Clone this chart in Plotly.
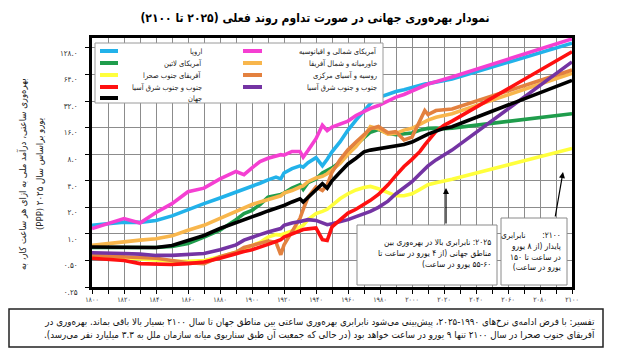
import math
import plotly.graph_objects as go

# ---------------- data ----------------
years = [1800, 1810, 1820, 1830, 1840, 1850, 1860, 1870, 1880, 1890,
         1895, 1900, 1905, 1910, 1915, 1918, 1920, 1925, 1930, 1932,
         1935, 1940, 1944, 1947, 1950, 1955, 1960, 1965, 1970, 1974,
         1979, 1985, 1990, 1995, 2000, 2005, 2008, 2010, 2015, 2020,
         2025, 2100]

europe = [1.25, 1.30, 1.36, 1.35, 1.42, 1.60, 1.90, 2.20, 2.55, 2.95,
          3.2, 3.45, 3.75, 4.1, 4.4, 4.2, 4.9, 5.5, 5.9, 5.7,
          6.4, 7.3, 5.9, 7.0, 8.5, 11.0, 15.0, 19.5, 25, 30,
          35, 38.5, 41, 43, 46, 48.5, 50, 50.5, 53, 55,
          57, 145]

latin_america = [0.70, 0.70, 0.70, 0.70, 0.70, 0.72, 0.78, 0.92, 1.10, 1.45,
                 1.7, 1.85, 2.15, 2.6, 2.7, 2.8, 2.9, 3.3, 3.6, 3.2,
                 3.8, 4.2, 4.9, 5.2, 5.6, 6.5, 8.4, 10.3, 12.5, 14.2,
                 15.2, 13.8, 13.3, 13.5, 13.9, 15.0, 15.5, 15.7, 15.8, 15.6,
                 15.8, 23]

subsaharan_africa = [0.55, 0.55, 0.54, 0.52, 0.50, 0.49, 0.49, 0.50, 0.55, 0.62,
                     0.68, 0.74, 0.80, 0.92, 0.98, 0.97, 1.0, 1.08, 1.2, 1.25,
                     1.45, 1.7, 1.8, 1.9, 2.1, 2.5, 2.85, 3.15, 3.35, 3.45,
                     3.25, 2.95, 2.7, 2.7, 2.85, 3.2, 3.4, 3.6, 3.8, 4.0,
                     4.15, 9.3]

red_asia = [0.53, 0.52, 0.50, 0.46, 0.45, 0.45, 0.46, 0.48, 0.53, 0.60,
            0.63, 0.66, 0.70, 0.76, 0.82, 0.86, 0.92, 1.0, 1.1, 1.12,
            1.14, 1.17, 0.86, 0.84, 1.2, 1.45, 1.72, 1.9, 2.15, 2.4,
            2.8, 3.6, 4.6, 5.8, 7.0, 8.6, 10.2, 11.2, 14.5, 17.0,
            19.0, 116]

world = [0.71, 0.71, 0.70, 0.70, 0.70, 0.74, 0.85, 0.96, 1.15, 1.33,
         1.42, 1.55, 1.68, 1.82, 1.95, 2.0, 2.1, 2.3, 2.5, 2.3,
         2.6, 3.1, 3.7, 3.3, 4.0, 5.0, 6.2, 7.2, 8.5, 8.9,
         9.2, 9.6, 9.9, 10.3, 11.0, 12.2, 13.0, 13.5, 14.6, 15.7,
         16.4, 55]

north_america = [1.15, 1.30, 1.49, 1.33, 1.75, 2.20, 3.0, 3.3, 4.2, 5.1,
                 4.7, 5.6, 6.6, 7.2, 7.6, 7.9, 7.8, 8.6, 8.6, 7.4,
                 8.8, 12.0, 17.0, 14.8, 16.2, 17.5, 19.0, 22, 24.5, 26.5,
                 28.5, 32, 35.5, 38, 41.5, 45, 48, 50, 53, 57,
                 60, 162]

mena = [0.74, 0.78, 0.81, 0.85, 0.88, 0.95, 1.10, 1.25, 1.50, 1.80,
        2.0, 2.15, 2.3, 2.45, 2.6, 2.7, 2.9, 3.1, 3.4, 3.5,
        3.9, 4.3, 4.5, 4.8, 5.3, 6.3, 8.0, 9.8, 12.6, 16.4,
        15.5, 13.5, 13.8, 15.0, 15.7, 17.5, 18.7, 19.5, 21, 22,
        23, 66]

russia = [0.57, 0.56, 0.55, 0.54, 0.53, 0.50, 0.47, 0.46, 0.55, 0.62,
          0.70, 0.74, 0.78, 0.83, 0.80, 0.58, 0.75, 1.05, 1.5, 1.9,
          2.6, 3.4, 3.1, 3.6, 5.0, 6.9, 9.0, 11.0, 13.5, 15.5,
          16.5, 14.0, 14.4, 11.6, 12.5, 19.0, 25.0, 22.5, 25.0, 25.5,
          26, 72]

purple_asia = [0.61, 0.61, 0.60, 0.59, 0.57, 0.57, 0.58, 0.60, 0.66, 0.75,
               0.85, 0.92, 0.98, 1.05, 1.12, 1.15, 1.25, 1.33, 1.38, 1.42,
               1.45, 1.42, 1.35, 1.27, 1.30, 1.36, 1.45, 1.57, 1.68, 1.80,
               2.0, 2.35, 2.85, 3.3, 3.9, 4.8, 5.5, 5.9, 6.9, 7.9,
               8.9, 89]

region_names = ["اروپا", "آمریکای لاتین", "آفریقای جنوب صحرا", "جنوب و جنوب شرق آسیا", "جهان",
                "آمریکای شمالی و اقیانوسیه", "خاورمیانه و شمال آفریقا", "روسیه و آسیای مرکزی",
                "جنوب و جنوب شرق آسیا"]
region_values = [europe, latin_america, subsaharan_africa, red_asia, world,
                 north_america, mena, russia, purple_asia]
region_colors = ["#22b2ea", "#1f9d4c", "#ffff3c", "#ff1010", "#000000",
                 "#f53fd2", "#f8b64c", "#e3813f", "#7434a3"]

y_tick_vals = [0.25, 0.5, 1, 2, 4, 8, 16, 32, 64, 128]
y_tick_text = ["۰.۲۵", "۰.۵۰", "۱.۰", "۲.۰", "۴.۰", "۸.۰", "۱۶.۰", "۳۲.۰", "۶۴.۰", "۱۲۸.۰"]
x_tick_vals = list(range(1800, 2101, 20))
x_tick_text = ["۱۸۰۰", "۱۸۲۰", "۱۸۴۰", "۱۸۶۰", "۱۸۸۰", "۱۹۰۰", "۱۹۲۰", "۱۹۴۰",
               "۱۹۶۰", "۱۹۸۰", "۲۰۰۰", "۲۰۲۰", "۲۰۴۰", "۲۰۶۰", "۲۰۸۰", "۲۱۰۰"]

title_text = "نمودار بهره‌وری جهانی در صورت تداوم روند فعلی (۲۰۲۵ تا ۲۱۰۰)"
ytitle_lines = ["بهره‌وری ساعتی، درآمد ملی به ازای هر ساعت کار، به",
                "یورو براساس سال ۲۰۲۵ (PPP)"]
box1_lines = ["۲۰۲۵: نابرابری بالا در بهره‌وری بین",
              "مناطق جهانی (از ۴ یورو در ساعت تا",
              "۵۵-۶۰ یورو در ساعت)"]
box2_lines = ["۲۱۰۰:       نابرابری",
              "پایدار (از ۸ یورو",
              "در ساعت تا ۱۵۰",
              "یورو در ساعت)"]
caption_lines = ["تفسیر: با فرض ادامه‌ی نرخ‌های ۱۹۹۰-۲۰۲۵، پیش‌بینی می‌شود نابرابری بهره‌وری ساعتی بین مناطق جهان تا سال ۲۱۰۰ بسیار بالا باقی بماند. بهره‌وری در",
                 "آفریقای جنوب صحرا در سال ۲۱۰۰ تنها ۹ یورو در ساعت خواهد بود (در حالی که جمعیت آن طبق سناریوی میانه سازمان ملل به ۳.۳ میلیارد نفر می‌رسد)."]

# ---------------- layout helpers ----------------
W, H = 625, 351
L, R, T, B = 92, 572, 38, 287
FONT = "DejaVu Sans Condensed, DejaVu Sans, sans-serif"


def px(x):
    return (x - L) / (R - L)


def py(y):
    return (B - y) / (B - T)


def rtl(s):
    return "\u202b" + s + "\u202c"


fig = go.Figure()

draw_order = [2, 1, 6, 7, 8, 3, 4, 0, 5]
for i in draw_order:
    fig.add_trace(go.Scatter(
        x=years, y=region_values[i], mode="lines", name=region_names[i],
        line=dict(color=region_colors[i], width=3.6), showlegend=False,
        hoverinfo="skip"))

shapes = []
annotations = []

# legend (manual, two columns)
shapes.append(dict(type="rect", xref="paper", yref="paper", layer="above",
                   x0=px(95), x1=px(383), y0=py(103), y1=py(43),
                   fillcolor="white", line=dict(color="#9a9a9a", width=1)))
rows = [51, 63, 75, 87, 98]
for k in range(len(region_names)):
    col = 0 if k < 5 else 1
    row = rows[k if k < 5 else k - 5]
    lx0, lx1, tx = (100, 118, 204) if col == 0 else (243, 262, 379)
    shapes.append(dict(type="line", xref="paper", yref="paper", layer="above",
                       x0=px(lx0), x1=px(lx1), y0=py(row), y1=py(row),
                       line=dict(color=region_colors[k], width=4)))
    annotations.append(dict(xref="paper", yref="paper", x=px(tx), y=py(row),
                            xanchor="right", yanchor="middle", showarrow=False,
                            text=rtl(region_names[k]),
                            font=dict(family=FONT, size=7.5, color="#222")))

# note boxes
shapes.append(dict(type="rect", xref="paper", yref="paper", layer="above",
                   x0=px(357), x1=px(497), y0=py(285), y1=py(225),
                   fillcolor="white", line=dict(color="#8a8a8a", width=1)))
annotations.append(dict(xref="paper", yref="paper", x=px(493), y=py(253),
                        xanchor="right", yanchor="middle", align="right", showarrow=False,
                        text="<br>".join(rtl(s) for s in box1_lines),
                        font=dict(family=FONT, size=8.3, color="#111")))
shapes.append(dict(type="rect", xref="paper", yref="paper", layer="above",
                   x0=px(501), x1=px(567), y0=py(285), y1=py(218),
                   fillcolor="white", line=dict(color="#8a8a8a", width=1)))
annotations.append(dict(xref="paper", yref="paper", x=px(563), y=py(251),
                        xanchor="right", yanchor="middle", align="right", showarrow=False,
                        text="<br>".join(rtl(s) for s in box2_lines),
                        font=dict(family=FONT, size=8.3, color="#111")))

# arrows (tail offsets in pixels)
annotations.append(dict(xref="paper", yref="paper", x=px(446), y=py(188),
                        ax=0, ay=37, text="", showarrow=True, arrowhead=2, arrowsize=1,
                        arrowwidth=1.2, arrowcolor="black"))
annotations.append(dict(xref="paper", yref="paper", x=px(563), y=py(172),
                        ax=-8, ay=46, text="", showarrow=True, arrowhead=2, arrowsize=1,
                        arrowwidth=1.2, arrowcolor="black"))

# y-axis title (two rotated lines)
for xline, s in zip([22, 39], ytitle_lines):
    annotations.append(dict(xref="paper", yref="paper", x=px(xline), y=py(174),
                            xanchor="center", yanchor="middle", textangle=-90,
                            showarrow=False, text=rtl(s),
                            font=dict(family=FONT, size=9.5, color="#222")))

# caption box
shapes.append(dict(type="rect", xref="paper", yref="paper", layer="above",
                   x0=px(9), x1=px(603), y0=py(347), y1=py(309),
                   fillcolor="rgba(0,0,0,0)", line=dict(color="#222", width=1.5)))
annotations.append(dict(xref="paper", yref="paper", x=px(597), y=py(328),
                        xanchor="right", yanchor="middle", align="right", showarrow=False,
                        text="<br>".join(rtl(s) for s in caption_lines),
                        font=dict(family=FONT, size=9.7, color="#111")))

fig.update_layout(
    width=W, height=H,
    margin=dict(l=L, r=W - R, t=T, b=H - B),
    paper_bgcolor="white", plot_bgcolor="white",
    font=dict(family=FONT, size=8, color="#222"),
    showlegend=False,
    title=dict(text="<b>" + rtl(title_text) + "</b>", x=315 / W, xanchor="center",
               y=1 - 18 / H, yanchor="middle",
               font=dict(family=FONT, size=12, color="black")),
    shapes=shapes, annotations=annotations,
)

fig.update_xaxes(
    range=[1800, 2100], tickmode="array", tickvals=x_tick_vals, ticktext=x_tick_text,
    showgrid=True, gridcolor="#8c8c8c", gridwidth=1,
    minor=dict(tickmode="array", tickvals=list(range(1810, 2100, 20)), showgrid=True,
               gridcolor="#8c8c8c", gridwidth=1, ticks="outside", ticklen=4,
               tickcolor="black", tickwidth=1),
    ticks="outside", ticklen=4, tickcolor="black", tickwidth=1,
    showline=True, linecolor="black", linewidth=2.5, mirror=True, zeroline=False,
    tickfont=dict(family=FONT, size=7, color="#333"),
)
fig.update_yaxes(
    type="log", range=[math.log10(0.25), math.log10(166)],
    tickmode="array", tickvals=y_tick_vals, ticktext=y_tick_text,
    showgrid=True, gridcolor="#8c8c8c", gridwidth=1,
    ticks="outside", ticklen=4, tickcolor="black", tickwidth=1,
    showline=True, linecolor="black", linewidth=2.5, mirror=True, zeroline=False,
    ticklabelstandoff=6, ticklabelshift=5,
    tickfont=dict(family=FONT, size=8, color="#333"),
)

fig.write_html("out.html")
